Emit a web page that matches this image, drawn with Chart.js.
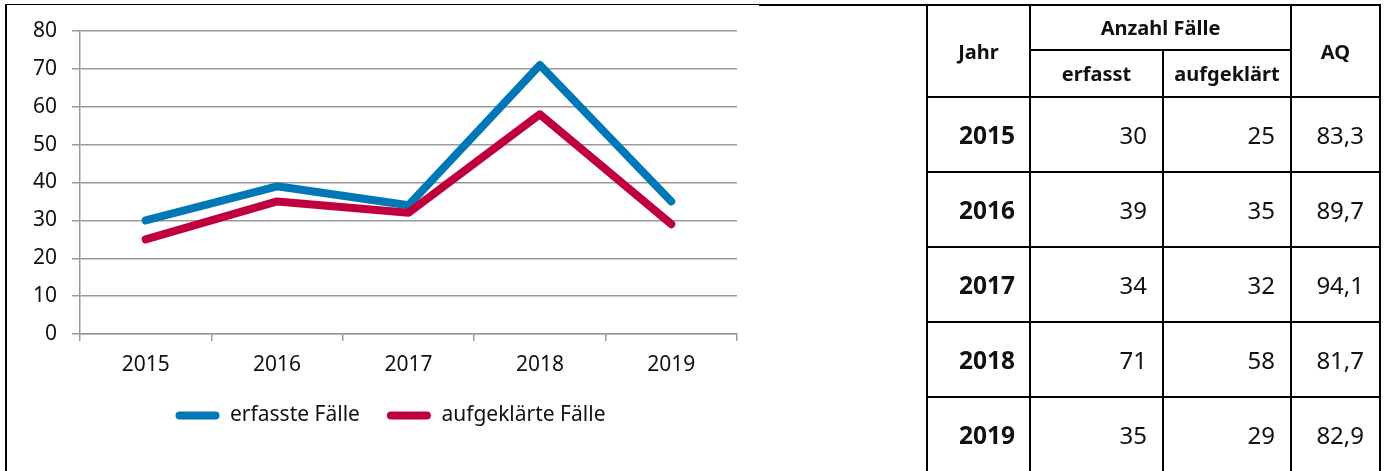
<!DOCTYPE html>
<html>
<head>
<meta charset="utf-8">
<script src="https://cdn.jsdelivr.net/npm/chart.js@4"></script>
<style>
  body { margin: 0; background: #fff; font-family: "Noto Sans", sans-serif; }
  #wrap { position: relative; width: 1387px; height: 471px; overflow: hidden; }
  #chartBox { position: absolute; left: 0; top: 0; width: 760px; height: 471px; }
  .ln { position: absolute; background: #000; }
  table { position: absolute; left: 926px; top: 4px; border-collapse: collapse; font-family: "Noto Sans", sans-serif; }
  td { border: 2px solid #000; padding: 0; color: #111; }
  td.h { font-weight: bold; font-size: 20px; text-align: center; }
  td.yr { font-weight: bold; font-size: 24.5px; text-align: right; padding-right: 14px; }
  td.num { font-size: 24px; text-align: right; padding-right: 15px; }
</style>
</head>
<body>
<div id="wrap">
  <div id="chartBox"><canvas id="crimeChart"></canvas></div>
  <div class="ln" style="left:5px;top:4px;width:2px;height:467px"></div>
  <div class="ln" style="left:5px;top:4px;width:754px;height:1px"></div>
  <div class="ln" style="left:759px;top:4px;width:170px;height:2px"></div>
  <table id="tbl"></table>
</div>
<script>
const years = ['2015', '2016', '2017', '2018', '2019'];
const erfasst = [30, 39, 34, 71, 35];
const aufgeklaert = [25, 35, 32, 58, 29];
const quote = ['83,3', '89,7', '94,1', '81,7', '82,9'];
const yTicks = [0, 10, 20, 30, 40, 50, 60, 70, 80];

// table
var html = '<tr style="height:45px"><td class="h" rowspan="2" style="width:101px">Jahr</td>' +
  '<td class="h" colspan="2">Anzahl Fälle</td><td class="h" rowspan="2" style="width:87px">AQ</td></tr>' +
  '<tr style="height:47px"><td class="h" style="width:131px">erfasst</td><td class="h" style="width:126px">aufgeklärt</td></tr>';
for (var i = 0; i < years.length; i++) {
  html += '<tr style="height:75px"><td class="yr">' + years[i] + '</td><td class="num">' + erfasst[i] +
    '</td><td class="num">' + aufgeklaert[i] + '</td><td class="num">' + quote[i] + '</td></tr>';
}
document.getElementById('tbl').innerHTML = html;

const font = { family: '"Noto Sans", sans-serif', size: 21 };

// legend sits a bit right of centre in the original
const shiftLegend = {
    id: 'shiftLegend',
    afterLayout: function(chart) {
        chart.legend.left += 22;
        chart.legend.right += 22;
    }
};

var ctx = document.getElementById('crimeChart').getContext('2d');
var myChart = new Chart(ctx, {
    type: 'line',
    data: {
        labels: years,
        datasets: [{
            label: 'erfasste Fälle',
            data: erfasst,
            borderColor: '#0077b6',
            backgroundColor: '#0077b6',
            borderWidth: 8,
            borderCapStyle: 'round',
            borderJoinStyle: 'round',
            pointRadius: 0,
            order: 2
        }, {
            label: 'aufgeklärte Fälle',
            data: aufgeklaert,
            borderColor: '#c0003d',
            backgroundColor: '#c0003d',
            borderWidth: 8,
            borderCapStyle: 'round',
            borderJoinStyle: 'round',
            pointRadius: 0,
            order: 1
        }]
    },
    plugins: [shiftLegend],
    options: {
        responsive: true,
        maintainAspectRatio: false,
        animation: false,
        layout: { padding: { left: 0, top: 31, right: 23, bottom: 35 } },
        plugins: {
            tooltip: { enabled: false },
            legend: {
                position: 'bottom',
                labels: {
                    font: font,
                    color: '#111',
                    boxWidth: 44,
                    boxHeight: 8,
                    useBorderRadius: true,
                    borderRadius: 4,
                    padding: 27,
                    sort: function(a, b) { return a.datasetIndex - b.datasetIndex; },
                    generateLabels: function(chart) {
                        return chart.data.datasets.map(function(ds, idx) {
                            return { text: ds.label, fillStyle: ds.borderColor, strokeStyle: ds.borderColor,
                                     lineWidth: 0, borderRadius: 4, datasetIndex: idx, fontColor: '#111' };
                        });
                    }
                }
            }
        },
        scales: {
            x: {
                offset: true,
                afterFit: function(s) { s.height = 44; },
                grid: { drawOnChartArea: false, drawTicks: true, tickLength: 7, color: '#999', lineWidth: 1.5, offset: true },
                border: { color: '#999', width: 1.5 },
                ticks: { font: font, color: '#111', padding: 11 }
            },
            y: {
                min: 0,
                max: 80,
                afterFit: function(s) { s.width = 80; },
                afterBuildTicks: function(s) { s.ticks = yTicks.map(function(v) { return { value: v }; }); },
                grid: { color: '#999', lineWidth: 1.5, tickLength: 8 },
                border: { color: '#999', width: 1.5 },
                ticks: { font: font, color: '#111', padding: 15 }
            }
        }
    }
});
</script>
</body>
</html>
